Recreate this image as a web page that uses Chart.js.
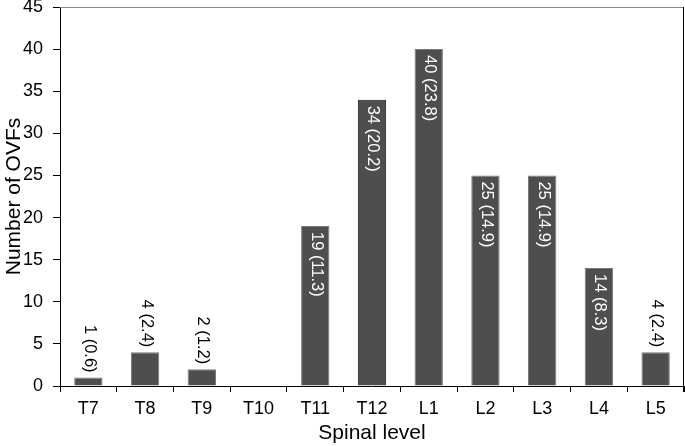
<!DOCTYPE html>
<html>
<head>
<meta charset="utf-8">
<script src="https://cdn.jsdelivr.net/npm/chart.js@4"></script>
<style>
  html, body { margin: 0; padding: 0; background: #fff; }
  #wrap { width: 685px; height: 446px; }
</style>
</head>
<body>
<div id="wrap"><canvas id="ovfChart" width="685" height="446"></canvas></div>
<script>
// ===========================
// DATA
// ===========================
const levels   = ['T7', 'T8', 'T9', 'T10', 'T11', 'T12', 'L1', 'L2', 'L3', 'L4', 'L5'];
const counts   = [1, 4, 2, 0, 19, 34, 40, 25, 25, 14, 4];
const percents = ['0.6', '2.4', '1.2', '', '11.3', '20.2', '23.8', '14.9', '14.9', '8.3', '2.4'];
const yTicks   = [0, 5, 10, 15, 20, 25, 30, 35, 40, 45];

const FONT = '"Liberation Sans", Arial, Helvetica, sans-serif';

// ===========================
// ROTATED VALUE LABELS
// ===========================
const barLabels = {
  id: 'barLabels',
  afterDatasetsDraw(chart) {
    const ctx  = chart.ctx;
    const meta = chart.getDatasetMeta(0);
    ctx.save();
    ctx.font = '16.5px ' + FONT;
    ctx.textBaseline = 'middle';
    meta.data.forEach((bar, i) => {
      if (!counts[i]) return;
      const text   = counts[i] + ' (' + percents[i] + ')';
      const w      = ctx.measureText(text).width;
      const inside = counts[i] >= 10;
      ctx.save();
      ctx.translate(bar.x + 1, inside ? bar.y + 6 : bar.y - 5 - w);
      ctx.rotate(Math.PI / 2);
      ctx.fillStyle = inside ? '#ffffff' : '#000000';
      ctx.textAlign = 'left';
      ctx.fillText(text, 0, 0);
      ctx.restore();
    });
    ctx.restore();
  }
};

// top and right frame lines
const frame = {
  id: 'frame',
  afterDraw(chart) {
    const { ctx, chartArea: a } = chart;
    ctx.save();
    ctx.lineWidth = 1;
    ctx.strokeStyle = '#888888';
    ctx.beginPath();
    ctx.moveTo(a.left, a.top + 0.5);
    ctx.lineTo(a.right, a.top + 0.5);
    ctx.stroke();
    ctx.strokeStyle = '#000000';
    ctx.beginPath();
    ctx.moveTo(a.right - 0.5, a.top);
    ctx.lineTo(a.right - 0.5, a.bottom + 6);
    ctx.stroke();
    ctx.restore();
  }
};

new Chart(document.getElementById('ovfChart'), {
  type: 'bar',
  data: {
    labels: levels,
    datasets: [{
      data: counts,
      backgroundColor: '#4e4e4e',
      borderColor: levels.map(l => l === 'T12' ? '#1a1a1a' : '#7a7a7a'),
      borderWidth: 1,
      borderSkipped: 'bottom',
      categoryPercentage: 1,
      barPercentage: 0.5
    }]
  },
  plugins: [barLabels, frame],
  options: {
    responsive: false,
    animation: false,
    devicePixelRatio: 1,
    layout: { padding: { top: 7, right: 1, left: 0, bottom: 0 } },
    plugins: {
      legend: { display: false },
      tooltip: { enabled: false }
    },
    scales: {
      x: {
        afterFit: s => { s.height = 60; s.paddingLeft = 0; s.paddingRight = 0; },
        grid: {
          offset: true,
          drawOnChartArea: false,
          tickLength: 6,
          tickColor: '#000'
        },
        border: { color: '#000', width: 1 },
        ticks: {
          color: '#000',
          font: { family: FONT, size: 18 },
          padding: 6
        },
        title: {
          display: true,
          text: 'Spinal level',
          color: '#000',
          font: { family: FONT, size: 21 },
          padding: { top: 0, bottom: 0 }
        }
      },
      y: {
        min: 0,
        max: 45,
        afterFit: s => { s.width = 60; s.paddingTop = 0; s.paddingBottom = 0; },
        afterBuildTicks: s => { s.ticks = yTicks.map(v => ({ value: v })); },
        grid: {
          drawOnChartArea: false,
          tickLength: 7,
          tickColor: '#000'
        },
        border: { color: '#000', width: 1 },
        ticks: {
          color: '#000',
          font: { family: FONT, size: 18 },
          padding: 10
        },
        title: {
          display: true,
          text: 'Number of OVFs',
          color: '#000',
          font: { family: FONT, size: 21 },
          padding: { top: 2, bottom: 0 }
        }
      }
    }
  }
});
</script>
</body>
</html>
